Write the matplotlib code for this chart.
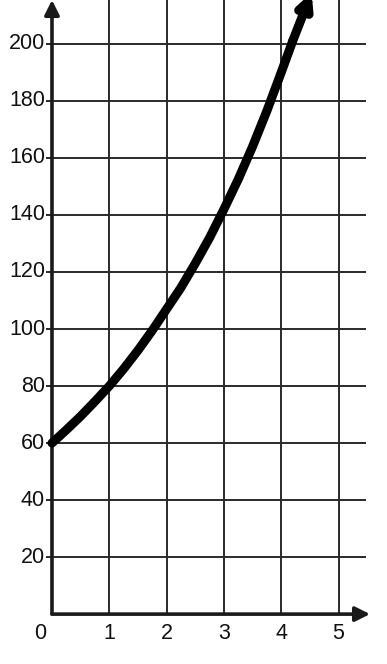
import matplotlib
matplotlib.use("Agg")
import matplotlib.pyplot as plt

# data
curve_x = [0, 0.25, 0.5, 0.75, 1, 1.25, 1.5, 1.75, 2, 2.25, 2.5, 2.75, 3,
           3.25, 3.5, 3.75, 4, 4.2, 4.53]
curve_y = [60, 64.6, 69.4, 74.6, 80, 86, 92.5, 99.5, 107, 114.5, 123, 132, 142,
           152.5, 164, 176.5, 190, 201, 218]
x_ticks = [1, 2, 3, 4, 5]
y_ticks = [20, 40, 60, 80, 100, 120, 140, 160, 180, 200]

plt.rcParams['font.family'] = ['Liberation Sans', 'DejaVu Sans']

fig = plt.figure(figsize=(3.87, 6.64), dpi=100)
ax = fig.add_axes([0, 0, 1, 1])
x0, x1 = -0.907, 5.846
y0, y1 = -17.5, 215.4
ax.set_xlim(x0, x1)
ax.set_ylim(y0, y1)
ax.axis('off')

grid_col = '#2a2a2a'
x_grid_end = 5.48
for yv in y_ticks:
    ax.plot([0, x_grid_end], [yv, yv], color=grid_col, lw=1.4, solid_capstyle='butt', zorder=1)
    ax.plot([-0.1, 0], [yv, yv], color=grid_col, lw=1.4, solid_capstyle='butt', zorder=1)
    ax.text(-0.12, yv, str(yv), ha='right', va='center', fontsize=15.5, color='#111')
for xv in x_ticks:
    ax.plot([xv, xv], [0, y1], color=grid_col, lw=1.4, solid_capstyle='butt', zorder=1)
    ax.text(xv, -3.2, str(xv), ha='center', va='top', fontsize=15.5, color='#111')
ax.text(-0.21, -3.2, '0', ha='center', va='top', fontsize=15.5, color='#111')

# axes with arrows
ax.annotate('', xy=(5.55, 0), xytext=(0, 0), annotation_clip=False,
            arrowprops=dict(arrowstyle='-|>', lw=2.6, color='#1a1a1a',
                            mutation_scale=22, shrinkA=0, shrinkB=0), zorder=3)
ax.annotate('', xy=(0, y1), xytext=(0, 0), annotation_clip=False,
            arrowprops=dict(arrowstyle='-|>', lw=2.6, color='#1a1a1a',
                            mutation_scale=22, shrinkA=0, shrinkB=0), zorder=3)

# curve
ax.plot(curve_x[:-1], curve_y[:-1], color='black', lw=6.5, solid_capstyle='round',
        solid_joinstyle='round', zorder=4)
ax.annotate('', xy=(curve_x[-1], curve_y[-1]), xytext=(curve_x[-2], curve_y[-2]),
            annotation_clip=False,
            arrowprops=dict(arrowstyle='-|>', lw=6.5, color='black',
                            mutation_scale=20, shrinkA=0, shrinkB=0), zorder=4)

fig.savefig('out.png', dpi=100)
